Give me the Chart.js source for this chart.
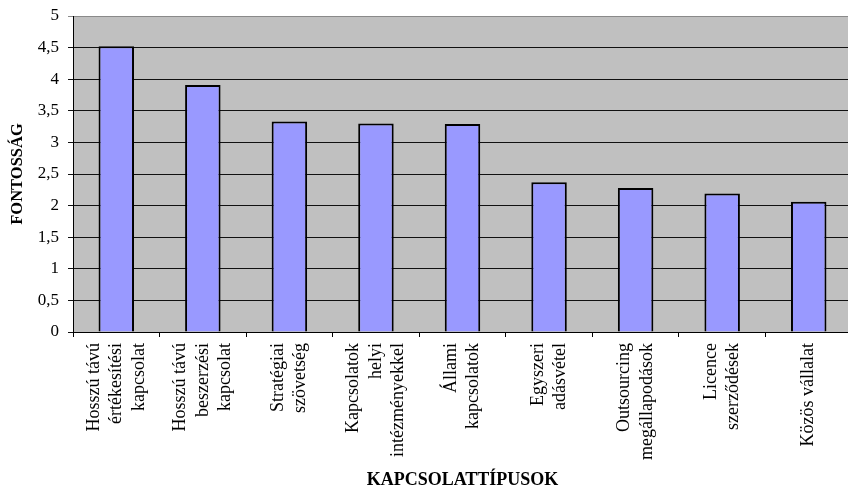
<!DOCTYPE html>
<html>
<head>
<meta charset="utf-8">
<script src="https://cdn.jsdelivr.net/npm/chart.js@4/dist/chart.umd.min.js"></script>
<style>
  html, body { margin: 0; padding: 0; background: #fff; overflow: hidden; }
  #wrap { width: 852px; height: 491px; }
</style>
</head>
<body>
<div id="wrap"><canvas id="c" width="852" height="491"></canvas></div>
<script>
// Kapcsolattípusok és fontosságuk
const categories = [
  ['Hosszú távú', 'értékesítési', 'kapcsolat'],
  ['Hosszú távú', 'beszerzési', 'kapcsolat'],
  ['Stratégiai', 'szövetség'],
  ['Kapcsolatok', 'helyi', 'intézményekkel'],
  ['Állami', 'kapcsolatok'],
  ['Egyszeri', 'adásvétel'],
  ['Outsourcing', 'megállapodások'],
  ['Licence', 'szerződések'],
  ['Közös vállalat']
];
const importance = [4.52, 3.91, 3.33, 3.30, 3.29, 2.37, 2.28, 2.19, 2.06];
const yTicks = [0, 0.5, 1, 1.5, 2, 2.5, 3, 3.5, 4, 4.5, 5];

const FONT = "'Liberation Serif', 'Times New Roman', serif";

// gray plot area; multi-line vertical category labels centred on their ticks
const plotStyling = {
  id: 'plotStyling',
  beforeDraw(chart) {
    const { ctx, chartArea: a } = chart;
    ctx.save();
    ctx.fillStyle = '#C0C0C0';
    ctx.fillRect(a.left, a.top, a.right - a.left, a.bottom - a.top);
    ctx.restore();

    const items = chart.scales.x.getLabelItems(a);
    items.forEach(item => {
      if (item._centred) return;
      const n = Array.isArray(item.label) ? item.label.length : 1;
      item.options.translation[0] -= (n - 1) * item.font.lineHeight / 2;
      item._centred = true;
    });
  }
};

new Chart(document.getElementById('c'), {
  type: 'bar',
  data: {
    labels: categories,
    datasets: [{
      data: importance,
      backgroundColor: '#9999FF',
      borderColor: '#000000',
      borderWidth: 2,
      categoryPercentage: 1,
      barPercentage: 0.41
    }]
  },
  plugins: [plotStyling],
  options: {
    responsive: false,
    animation: false,
    devicePixelRatio: 1,
    layout: { padding: { top: 16, left: 0, right: 0, bottom: 0 } },
    plugins: { legend: { display: false }, tooltip: { enabled: false } },
    scales: {
      x: {
        afterFit(scale) { scale.height = 159; },
        border: { display: true, color: '#000', width: 1 },
        grid: {
          offset: true,
          drawOnChartArea: false,
          drawTicks: true,
          tickLength: 5,
          color: '#000'
        },
        ticks: {
          autoSkip: false,
          minRotation: 90,
          maxRotation: 90,
          padding: 6,
          color: '#000',
          font: { family: FONT, size: 18, lineHeight: 1.25 }
        },
        title: {
          display: true,
          text: 'KAPCSOLATTÍPUSOK',
          color: '#000',
          font: { family: FONT, size: 18, weight: 'bold', lineHeight: 1.2 },
          padding: { top: 2, bottom: 0 }
        }
      },
      y: {
        min: 0,
        max: 5,
        afterFit(scale) {
          scale.width = 73;
          scale.paddingTop = 8;
          scale.paddingBottom = 8;
        },
        afterBuildTicks(scale) { scale.ticks = yTicks.map(v => ({ value: v })); },
        border: { display: true, color: '#000', width: 1 },
        grid: {
          drawTicks: true,
          tickLength: 5,
          color: ctx => (ctx.tick && ctx.tick.value === 5) ? '#8a8a8a' : '#111',
          lineWidth: 1
        },
        ticks: {
          padding: 9,
          color: '#000',
          font: { family: FONT, size: 17 },
          callback: v => String(v).replace('.', ',')
        },
        title: {
          display: true,
          text: 'FONTOSSÁG',
          color: '#000',
          font: { family: FONT, size: 16.5, weight: 'bold', lineHeight: 1.2 },
          padding: { top: 8, bottom: 0 }
        }
      }
    }
  }
});
</script>
</body>
</html>
